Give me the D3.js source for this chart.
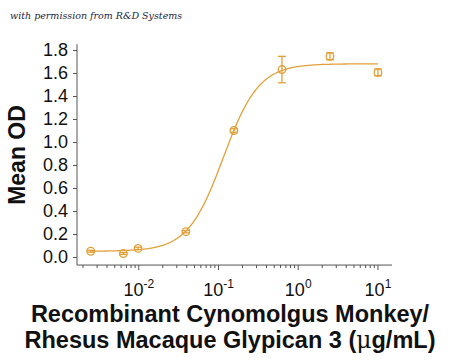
<!DOCTYPE html>
<html>
<head>
<meta charset="utf-8">
<script src="https://cdn.jsdelivr.net/npm/d3@7"></script>
<style>
  body { margin: 0; background: #fff; }
  svg { display: block; }
</style>
</head>
<body>
<svg></svg>
<script>
        const svgWidth = 450;
        const svgHeight = 361;

        // concentrations (ug/mL) and mean OD
        const conc = [0.0025, 0.0064, 0.0098, 0.039, 0.156, 0.625, 2.5, 10];
        const meanOD = [0.05, 0.03, 0.075, 0.22, 1.10, 1.63, 1.745, 1.605];
        const errOD = [0.008, 0.008, 0.01, 0.01, 0.015, 0.115, 0.03, 0.03];

        // 4PL fit parameters estimated from the drawn curve
        const fitBottom = 0.05;
        const fitTop = 1.68;
        const fitEC50 = 0.115;
        const fitHill = 1.95;

        const yTicks = [0.0, 0.2, 0.4, 0.6, 0.8, 1.0, 1.2, 1.4, 1.6, 1.8];
        const xTicks = [0.01, 0.1, 1, 10];
        const xTickExp = ["-2", "-1", "0", "1"];

        const orange = "#E2A038";
        const axisColor = "#555";

        const svg = d3.select("svg")
            .attr("width", svgWidth)
            .attr("height", svgHeight);

        const x = d3.scaleLog()
            .domain([0.00168, 15])
            .range([77, 392]);

        const y = d3.scaleLinear()
            .domain([0, 1.8])
            .range([257, 50]);

        svg.append("text")
            .attr("x", 10)
            .attr("y", 19)
            .attr("font-family", "DejaVu Serif")
            .attr("font-style", "italic")
            .attr("font-size", 9.5)
            .attr("fill", "#1a2540")
            .text("with permission from R&D Systems");

        // y axis
        const yAxis = d3.axisLeft(y)
            .tickValues(yTicks)
            .tickFormat(d3.format(".1f"))
            .tickSize(4)
            .tickPadding(5);

        const gy = svg.append("g")
            .attr("transform", "translate(77,0)")
            .call(yAxis);
        gy.select(".domain").attr("d", `M0,${y(1.85)}V${y(-0.07)}`);

        // x axis with minor ticks
        const minor = [];
        for (let e = -3; e <= 1; e++) {
            for (let m = 1; m <= 9; m++) {
                const v = m * Math.pow(10, e);
                if (v >= x.domain()[0] && v <= x.domain()[1]) minor.push(v);
            }
        }
        const gx = svg.append("g")
            .attr("transform", `translate(0,${y(-0.07)})`);
        gx.append("path")
            .attr("d", `M${x.range()[0]},0H${x.range()[1]}`)
            .attr("stroke", axisColor);
        gx.selectAll(".minor")
            .data(minor)
            .enter().append("line")
            .attr("x1", d => x(d)).attr("x2", d => x(d))
            .attr("y1", 0)
            .attr("y2", d => xTicks.includes(d) ? 5 : 3)
            .attr("stroke", axisColor);

        const lbl = gx.selectAll(".lbl")
            .data(xTicks)
            .enter().append("text")
            .attr("x", d => x(d))
            .attr("y", 31)
            .attr("text-anchor", "middle")
            .attr("font-family", "Liberation Sans, Arial")
            .attr("font-size", 18)
            .attr("fill", "#111");
        lbl.append("tspan").text("10");
        lbl.append("tspan")
            .attr("dy", -8)
            .attr("font-size", 12)
            .text((d, i) => xTickExp[i]);

        gy.selectAll(".domain, .tick line").attr("stroke", axisColor);
        gy.selectAll(".tick text")
            .attr("font-family", "Liberation Sans, Arial")
            .attr("font-size", 18)
            .attr("fill", "#111");

        // fitted curve
        const curve = d3.range(0, 201).map(i => {
            const lx = Math.log10(conc[0]) + i / 200 * (Math.log10(conc[conc.length - 1]) - Math.log10(conc[0]));
            const c = Math.pow(10, lx);
            return [c, fitBottom + (fitTop - fitBottom) / (1 + Math.pow(fitEC50 / c, fitHill))];
        });
        svg.append("path")
            .datum(curve)
            .attr("d", d3.line().x(d => x(d[0])).y(d => y(d[1])))
            .attr("fill", "none")
            .attr("stroke", orange)
            .attr("stroke-width", 1.3);

        // error bars
        const pts = conc.map((c, i) => ({ c: c, v: meanOD[i], e: errOD[i] }));
        const eb = svg.selectAll(".eb")
            .data(pts)
            .enter().append("g")
            .attr("stroke", orange)
            .attr("stroke-width", 1.3);
        eb.append("line")
            .attr("x1", d => x(d.c)).attr("x2", d => x(d.c))
            .attr("y1", d => y(d.v - d.e)).attr("y2", d => y(d.v + d.e));
        eb.append("line")
            .attr("x1", d => x(d.c) - 4).attr("x2", d => x(d.c) + 4)
            .attr("y1", d => y(d.v + d.e)).attr("y2", d => y(d.v + d.e));
        eb.append("line")
            .attr("x1", d => x(d.c) - 4).attr("x2", d => x(d.c) + 4)
            .attr("y1", d => y(d.v - d.e)).attr("y2", d => y(d.v - d.e));

        svg.selectAll(".pt")
            .data(pts)
            .enter().append("circle")
            .attr("cx", d => x(d.c))
            .attr("cy", d => y(d.v))
            .attr("r", 3.8)
            .attr("fill", "none")
            .attr("stroke", orange)
            .attr("stroke-width", 1.3);

        // axis titles
        svg.append("text")
            .attr("transform", `translate(25,155) rotate(-90)`)
            .attr("text-anchor", "middle")
            .attr("font-family", "Liberation Sans, Arial")
            .attr("font-weight", "bold")
            .attr("font-size", 23)
            .attr("fill", "#111")
            .text("Mean OD");

        const xt = svg.append("text")
            .attr("text-anchor", "middle")
            .attr("font-family", "Liberation Sans, Arial")
            .attr("font-weight", "bold")
            .attr("font-size", 23.5)
            .attr("fill", "#111");
        xt.append("tspan").attr("x", 230).attr("y", 322).text("Recombinant Cynomolgus Monkey/");
        const l2 = xt.append("tspan").attr("x", 230).attr("y", 348);
        l2.append("tspan").text("Rhesus Macaque Glypican 3 (");
        l2.append("tspan").attr("font-weight", "normal").attr("font-family", "DejaVu Serif").text("\u03bc");
        l2.append("tspan").text("g/mL)");
</script>
</body>
</html>
